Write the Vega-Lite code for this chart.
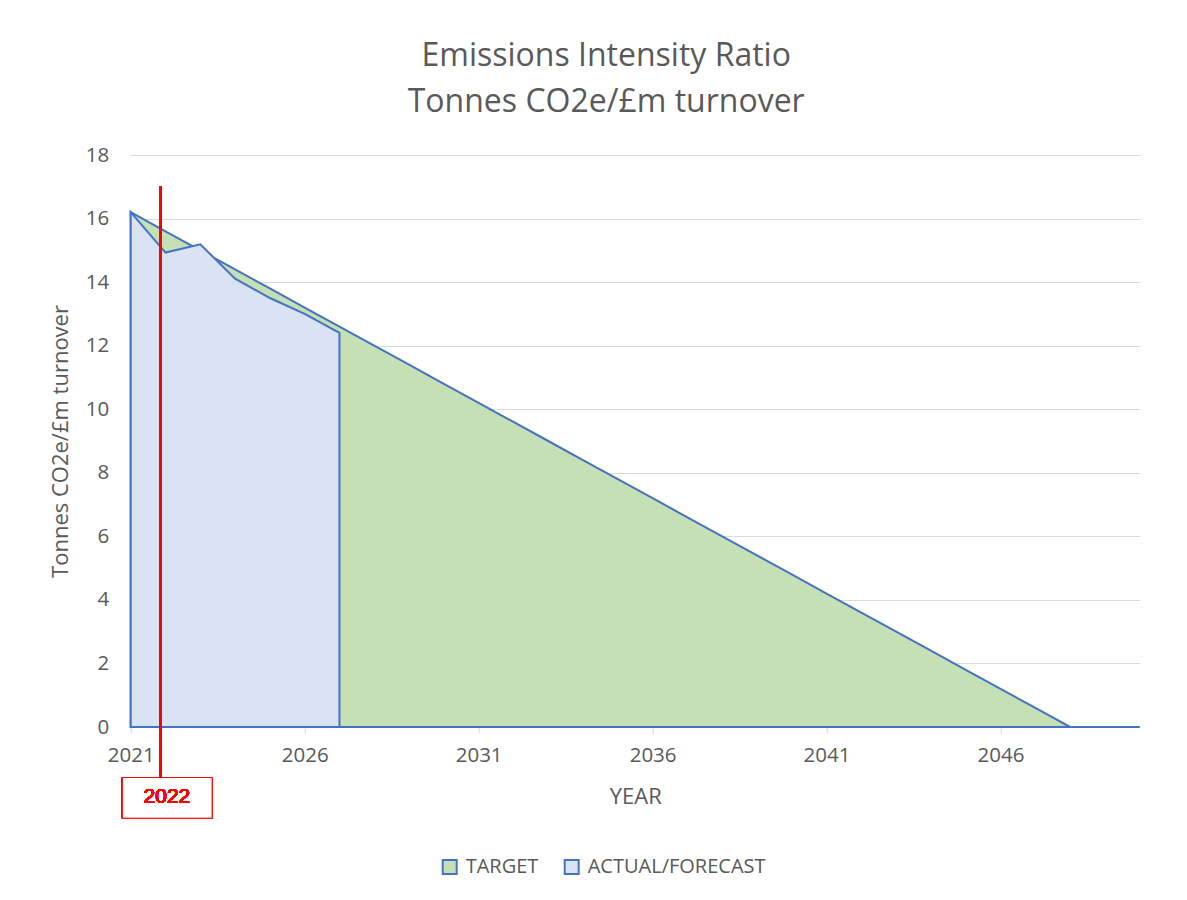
{
  "$schema": "https://vega.github.io/schema/vega-lite/v6.json",
  "width": 1009,
  "height": 572,
  "autosize": {"type": "none"},
  "padding": {"left": 130.7, "top": 155, "right": 47.3, "bottom": 173},
  "background": "white",
  "title": {
    "text": ["Emissions Intensity Ratio", "Tonnes CO2e/£m turnover"],
    "font": "Open Sans",
    "fontSize": 32,
    "fontWeight": "normal",
    "color": "#595959",
    "lineHeight": 46,
    "anchor": "middle",
    "frame": "group",
    "dx": -29,
    "offset": 26
  },
  "config": {
    "view": {"stroke": null},
    "font": "Open Sans",
    "axis": {
      "labelFont": "Open Sans",
      "titleFont": "Open Sans",
      "labelColor": "#595959",
      "titleColor": "#595959",
      "labelFontSize": 20.5,
      "titleFontSize": 22,
      "titleFontWeight": "normal"
    }
  },
  "datasets": {
    "main": [
      {"year": 2021, "value": 16.2, "series": "TARGET"},
      {"year": 2022, "value": 15.6, "series": "TARGET"},
      {"year": 2023, "value": 15.0, "series": "TARGET"},
      {"year": 2024, "value": 14.4, "series": "TARGET"},
      {"year": 2025, "value": 13.8, "series": "TARGET"},
      {"year": 2026, "value": 13.2, "series": "TARGET"},
      {"year": 2027, "value": 12.6, "series": "TARGET"},
      {"year": 2028, "value": 12.0, "series": "TARGET"},
      {"year": 2029, "value": 11.4, "series": "TARGET"},
      {"year": 2030, "value": 10.8, "series": "TARGET"},
      {"year": 2031, "value": 10.2, "series": "TARGET"},
      {"year": 2032, "value": 9.6, "series": "TARGET"},
      {"year": 2033, "value": 9.0, "series": "TARGET"},
      {"year": 2034, "value": 8.4, "series": "TARGET"},
      {"year": 2035, "value": 7.8, "series": "TARGET"},
      {"year": 2036, "value": 7.2, "series": "TARGET"},
      {"year": 2037, "value": 6.6, "series": "TARGET"},
      {"year": 2038, "value": 6.0, "series": "TARGET"},
      {"year": 2039, "value": 5.4, "series": "TARGET"},
      {"year": 2040, "value": 4.8, "series": "TARGET"},
      {"year": 2041, "value": 4.2, "series": "TARGET"},
      {"year": 2042, "value": 3.6, "series": "TARGET"},
      {"year": 2043, "value": 3.0, "series": "TARGET"},
      {"year": 2044, "value": 2.4, "series": "TARGET"},
      {"year": 2045, "value": 1.8, "series": "TARGET"},
      {"year": 2046, "value": 1.2, "series": "TARGET"},
      {"year": 2047, "value": 0.6, "series": "TARGET"},
      {"year": 2048, "value": 0, "series": "TARGET"},
      {"year": 2049, "value": 0, "series": "TARGET"},
      {"year": 2050, "value": 0, "series": "TARGET"},
      {"year": 2021, "value": 16.2, "series": "ACTUAL/FORECAST"},
      {"year": 2022, "value": 14.93, "series": "ACTUAL/FORECAST"},
      {"year": 2023, "value": 15.19, "series": "ACTUAL/FORECAST"},
      {"year": 2024, "value": 14.11, "series": "ACTUAL/FORECAST"},
      {"year": 2025, "value": 13.5, "series": "ACTUAL/FORECAST"},
      {"year": 2026, "value": 13.0, "series": "ACTUAL/FORECAST"},
      {"year": 2027, "value": 12.4, "series": "ACTUAL/FORECAST"}
    ]
  },
  "data": {"name": "main"},
  "layer": [
    {
      "transform": [{"filter": "datum.series === 'TARGET'"}],
      "mark": {"type": "area", "stroke": "#4472C4", "strokeWidth": 2, "opacity": 1, "strokeJoin": "miter"},
      "encoding": {
        "x": {
          "field": "year", "type": "quantitative",
          "scale": {"domain": [2021, 2050], "nice": false, "zero": false},
          "axis": {
            "title": "YEAR",
            "values": [2021, 2026, 2031, 2036, 2041, 2046],
            "format": "d",
            "grid": false,
            "domainColor": "#D9D9D9",
            "tickColor": "#D9D9D9",
            "tickSize": 6,
            "labelPadding": 12,
            "titlePadding": 21,
            "labelFlush": false
          }
        },
        "y": {
          "field": "value", "type": "quantitative", "stack": null,
          "scale": {"domain": [0, 18], "nice": false},
          "axis": {
            "title": "Tonnes CO2e/£m turnover",
            "values": [0, 2, 4, 6, 8, 10, 12, 14, 16, 18],
            "grid": true,
            "gridColor": "#D9D9D9",
            "domain": false,
            "ticks": false,
            "labelPadding": 22,
            "titlePadding": 13
          }
        },
        "color": {
          "field": "series", "type": "nominal",
          "scale": {"domain": ["TARGET", "ACTUAL/FORECAST"], "range": ["#C5E0B4", "#DAE3F3"]},
          "legend": {
            "title": null,
            "orient": "none",
            "direction": "horizontal",
            "legendX": 309,
            "legendY": 702,
            "padding": 0,
            "labelFont": "Open Sans",
            "labelFontSize": 20,
            "labelColor": "#595959",
            "labelLimit": 400,
            "symbolType": "square",
            "symbolSize": 196,
            "symbolStrokeColor": "#4472C4",
            "symbolStrokeWidth": 2,
            "symbolOpacity": 1,
            "labelOffset": 6,
            "columnPadding": 22
          }
        }
      }
    },
    {
      "transform": [{"filter": "datum.series === 'ACTUAL/FORECAST'"}],
      "mark": {"type": "area", "stroke": "#4472C4", "strokeWidth": 2, "opacity": 1, "strokeJoin": "miter"},
      "encoding": {
        "x": {"field": "year", "type": "quantitative"},
        "y": {"field": "value", "type": "quantitative", "stack": null},
        "color": {"field": "series", "type": "nominal"}
      }
    },
    {
      "mark": {"type": "rule", "color": "#FF0000", "strokeWidth": 2},
      "encoding": {
        "x": {"datum": 2021.86},
        "y": {"datum": 17.0},
        "y2": {"datum": -1.59}
      }
    },
    {
      "mark": {"type": "rect", "fill": "white", "stroke": "#FF0000", "strokeWidth": 1},
      "encoding": {
        "x": {"datum": 2020.76},
        "x2": {"datum": 2023.34},
        "y": {"datum": -1.59},
        "y2": {"datum": -2.87}
      }
    },
    {
      "mark": {"type": "text", "text": "2022", "color": "#FF0000", "font": "Arial, Liberation Sans", "fontWeight": 400, "fontSize": 21, "align": "center", "baseline": "middle"},
      "encoding": {
        "x": {"datum": 2022.04},
        "y": {"datum": -2.21}
      }
    }
  ]
}
